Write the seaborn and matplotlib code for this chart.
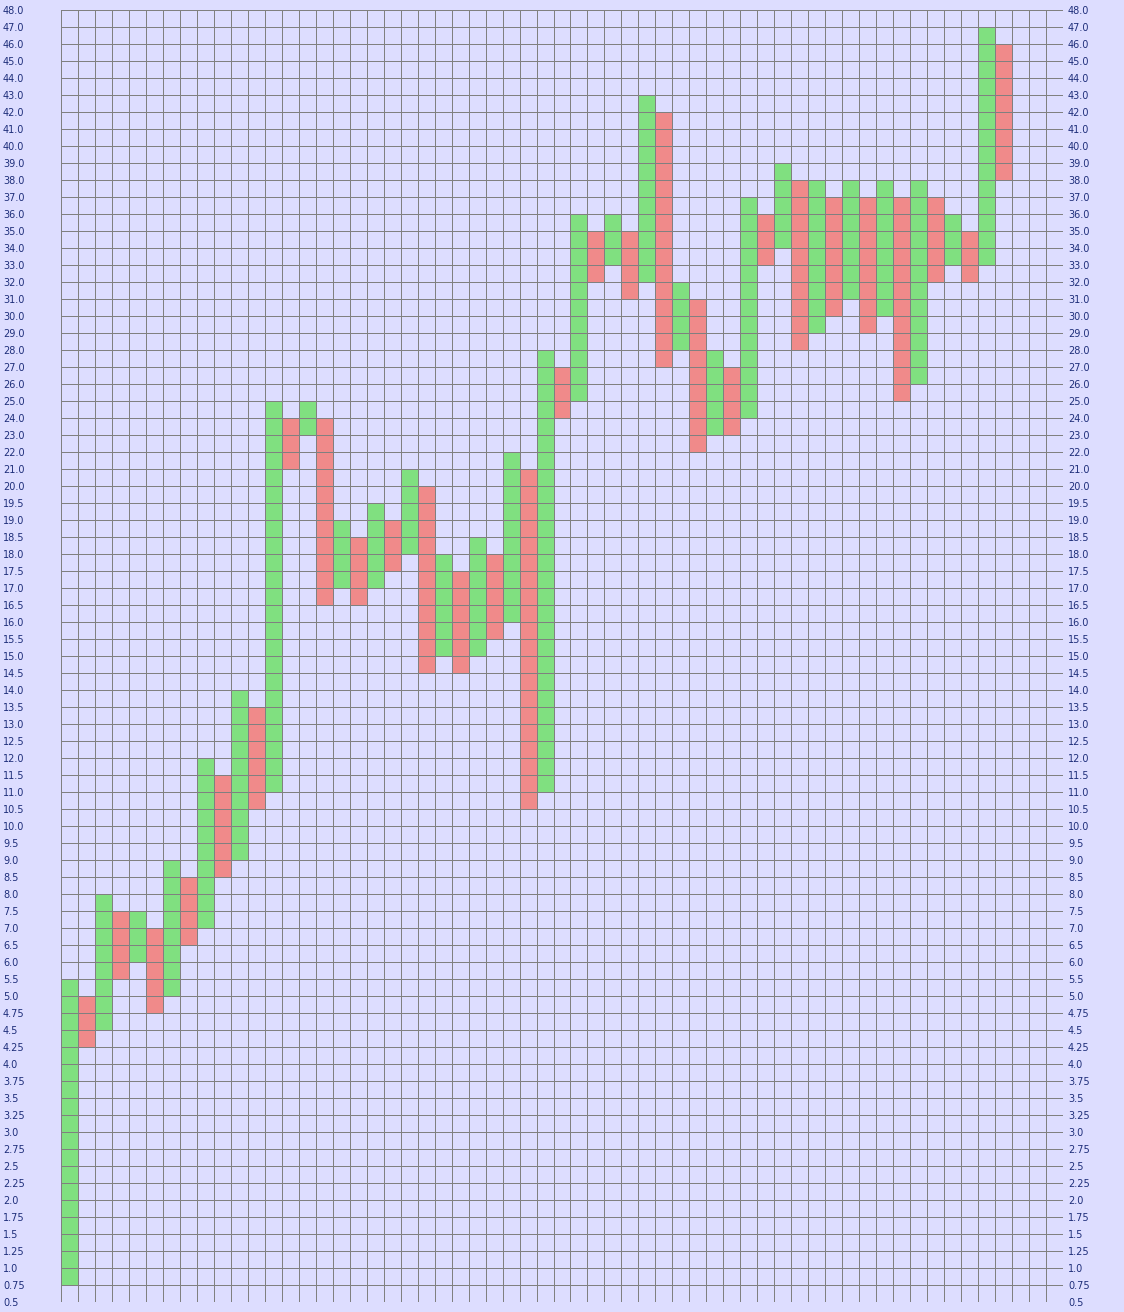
import numpy as np
import matplotlib
matplotlib.use("Agg")
import matplotlib.pyplot as plt
import matplotlib.transforms as mtransforms
import seaborn as sns
from matplotlib.colors import ListedColormap

# ---------------- data: box levels (y axis) and the columns ----------------
box_levels = [0.5, 0.75, 1.0, 1.25, 1.5, 1.75, 2.0, 2.25, 2.5, 2.75, 3.0, 3.25,
              3.5, 3.75, 4.0, 4.25, 4.5, 4.75, 5.0,
              5.5, 6.0, 6.5, 7.0, 7.5, 8.0, 8.5, 9.0, 9.5, 10.0, 10.5, 11.0,
              11.5, 12.0, 12.5, 13.0, 13.5, 14.0, 14.5, 15.0, 15.5, 16.0,
              16.5, 17.0, 17.5, 18.0, 18.5, 19.0, 19.5, 20.0,
              21.0, 22.0, 23.0, 24.0, 25.0, 26.0, 27.0, 28.0, 29.0, 30.0,
              31.0, 32.0, 33.0, 34.0, 35.0, 36.0, 37.0, 38.0, 39.0, 40.0,
              41.0, 42.0, 43.0, 44.0, 45.0, 46.0, 47.0, 48.0]

col_low = [0.75, 4.25, 4.5, 5.5, 6.0, 4.75, 5.0, 6.5, 7.0, 8.5,
           9.0, 10.5, 11.0, 21.0, 23.0, 16.5, 17.0, 16.5, 17.0, 17.5,
           18.0, 14.5, 15.0, 14.5, 15.0, 15.5, 16.0, 10.5, 11.0, 24.0,
           25.0, 32.0, 33.0, 31.0, 32.0, 27.0, 28.0, 22.0, 23.0, 23.0,
           24.0, 33.0, 34.0, 28.0, 29.0, 30.0, 31.0, 29.0, 30.0, 25.0,
           26.0, 32.0, 33.0, 32.0, 33.0, 38.0]
col_high = [5.5, 5.0, 8.0, 7.5, 7.5, 7.0, 9.0, 8.5, 12.0, 11.5,
            14.0, 13.5, 25.0, 24.0, 25.0, 24.0, 19.0, 18.5, 19.5, 19.0,
            21.0, 20.0, 18.0, 17.5, 18.5, 18.0, 22.0, 21.0, 28.0, 27.0,
            36.0, 35.0, 36.0, 35.0, 43.0, 42.0, 32.0, 31.0, 28.0, 27.0,
            37.0, 36.0, 39.0, 38.0, 38.0, 37.0, 38.0, 37.0, 38.0, 37.0,
            38.0, 37.0, 36.0, 35.0, 47.0, 46.0]
# columns alternate: rising (X, green) then falling (O, red)
col_dir = ["up" if i % 2 == 0 else "down" for i in range(len(col_low))]
n_cols = 59

bg = "#DDDDFF"
green = "#80E080"
red = "#F08A8A"
grid_col = "#808080"
text_col = "#1E2E7A"

# ---------------- build the cell matrix ----------------
n_rows = len(box_levels) - 1
cells = np.zeros((n_rows, n_cols))
for c, (lo, hi, d) in enumerate(zip(col_low, col_high, col_dir)):
    i0 = box_levels.index(lo)
    i1 = box_levels.index(hi)
    cells[i0:i1, c] = 1 if d == "up" else 2
cells = cells[::-1]  # top row first

# ---------------- plot ----------------
sns.set_style("white")
fig = plt.figure(figsize=(11.24, 13.12), dpi=100, facecolor=bg)
ax = fig.add_axes([61 / 1124, 1 - 1302 / 1312, 1002 / 1124, 1292 / 1312])

sns.heatmap(cells, cmap=ListedColormap([bg, green, red]), vmin=-0.5, vmax=2.5,
            cbar=False, linewidths=0.55, linecolor=grid_col,
            xticklabels=False, yticklabels=False, ax=ax)

labels = [f"{v:g}" if (v * 100) % 50 == 25 else f"{v:.1f}" for v in box_levels[::-1]]
ax.set_yticks(np.arange(len(box_levels)))
ax.set_yticklabels(labels, fontsize=7, color=text_col, rotation=0)
ax.set_ylim(n_rows, 0)
ax.set_xlim(0, n_cols)
ax.set_xticks([])
ax.set_ylabel("")
ax.set_xlabel("")
ax.tick_params(axis="y", length=0, left=False, right=False,
               labelleft=True, labelright=True, pad=41.8)

fig.canvas.draw()
# left labels start at the figure edge, right labels sit next to the plot
off = mtransforms.ScaledTranslation(-38.2 / 72, 0, fig.dpi_scale_trans)
for t in ax.yaxis.get_major_ticks():
    t.label1.set_horizontalalignment("left")
    t.label2.set_horizontalalignment("left")
    t.label2.set_transform(t.label2.get_transform() + off)

fig.savefig("out.png", dpi=100, facecolor=bg)
